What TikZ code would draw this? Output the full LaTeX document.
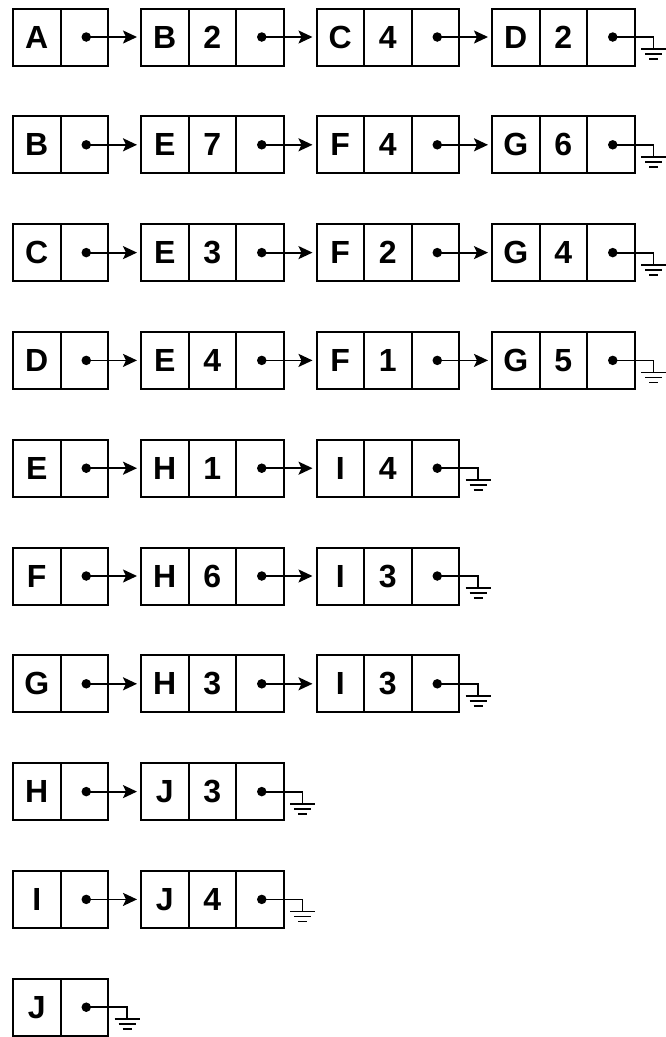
\documentclass[tikz,border=0pt]{standalone}
\usepackage{fontspec}
\setmainfont{Liberation Sans}
\usetikzlibrary{arrows.meta,positioning}

\begin{document}
\begin{tikzpicture}[
  x=1pt, y=1pt,
  font=\fontsize{32}{32}\selectfont\bfseries,
  cell/.style={draw,line width=2pt,minimum width=47.5pt,minimum height=57pt,inner sep=0pt,outer sep=0pt},
  dot/.style={circle,fill,inner sep=0pt,minimum size=9.5pt},
  arr/.style={-{Stealth[length=14pt,width=13pt,inset=3pt]},line width=1.8pt,shorten >=4pt},
  wire/.style={line width=1.8pt},
]
\useasboundingbox (0,0) rectangle (665,-1037);
% one adjacency list per row: head / number of entries / entries
\foreach \hd/\num/\lst [count=\row from 0] in {A/3/{B/2,C/4,D/2}, B/3/{E/7,F/4,G/6},
    C/3/{E/3,F/2,G/4}, D/3/{E/4,F/1,G/5}, E/2/{H/1,I/4}, F/2/{H/6,I/3},
    G/2/{H/3,I/3}, H/1/{J/3}, I/1/{J/4}, J/0/{}} {
  % head of the list
  \node[cell] (r\row-0-k) at (36.75,-37-107.8*\row) {\hd};
  \node[cell,right=0pt of r\row-0-k] (r\row-0-p) {};
  \node[dot] (r\row-0-d) at ([xshift=2pt]r\row-0-p.center) {};
  % entries
  \ifnum\num>0
  \foreach \key/\wt [count=\i] in \lst {
    \pgfmathtruncatemacro{\prv}{\i-1}
    \node[cell,right=33pt of r\row-\prv-p] (r\row-\i-k) {\key};
    \node[cell,right=0pt of r\row-\i-k] (r\row-\i-w) {\wt};
    \node[cell,right=0pt of r\row-\i-w] (r\row-\i-p) {};
    \node[dot] (r\row-\i-d) at ([xshift=2pt]r\row-\i-p.center) {};
    \draw[arr] (r\row-\prv-d.center) -- (r\row-\i-k.west);
  }
  \fi
  % null pointer to ground
  \coordinate[right=19pt of r\row-\num-p,yshift=-12pt] (r\row-g);
  \draw[wire] (r\row-\num-d.center) -| (r\row-g);
  \draw[wire] ([xshift=-12.5pt]r\row-g) -- ([xshift=12.5pt]r\row-g)
    ([xshift=-8.5pt,yshift=-5pt]r\row-g) -- ([xshift=8.5pt,yshift=-5pt]r\row-g)
    ([xshift=-4.5pt,yshift=-10pt]r\row-g) -- ([xshift=4.5pt,yshift=-10pt]r\row-g);
}
\end{tikzpicture}
\end{document}
